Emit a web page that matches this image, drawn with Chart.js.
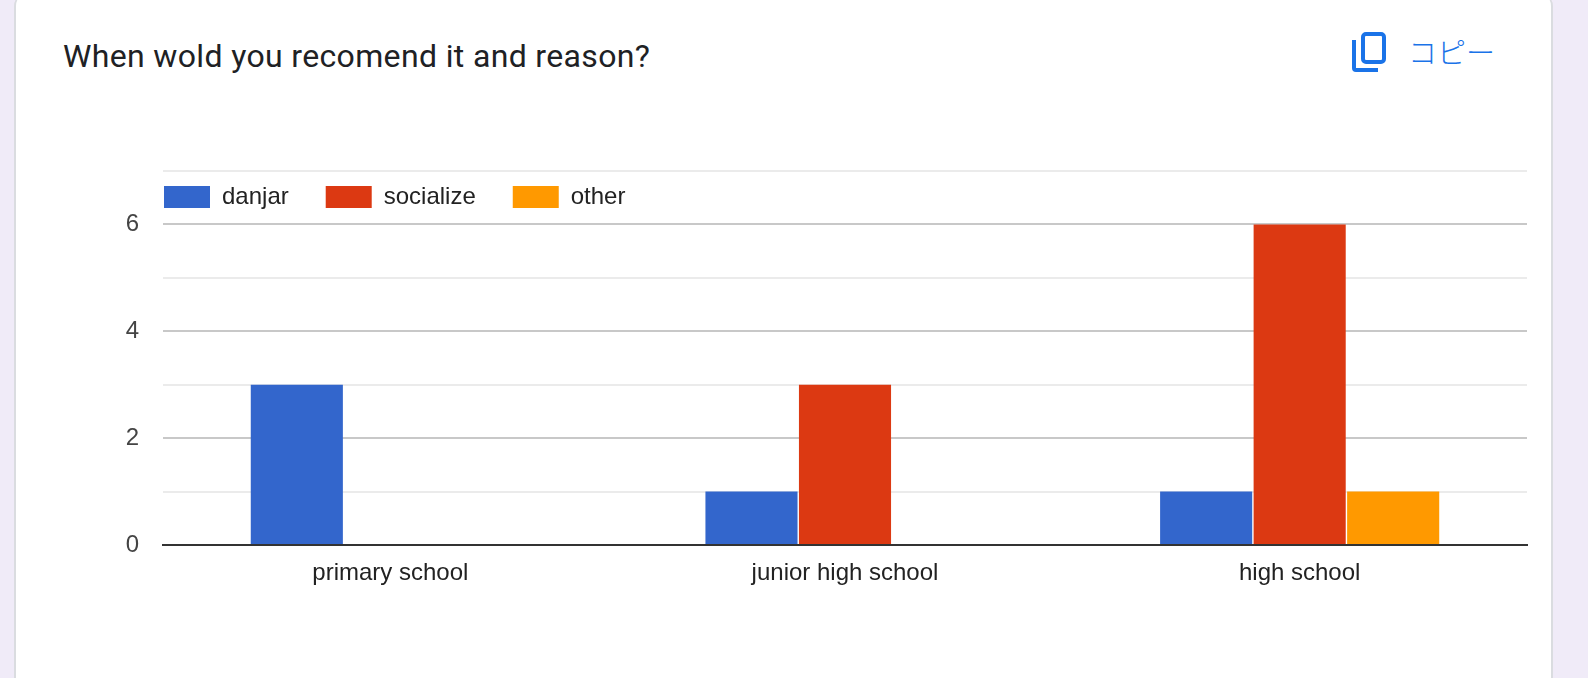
<!DOCTYPE html>
<html>
<head>
<meta charset="utf-8">
<script src="https://cdn.jsdelivr.net/npm/chart.js@4"></script>
<style>
  html, body { margin: 0; padding: 0; width: 1588px; height: 678px; overflow: hidden; background: #f0ebf8; }
  #card {
    position: absolute; left: 14px; top: -6px; width: 1535px; height: 720px;
    background: #fff; border: 1px solid #dadce0; border-width: 0 2px; border-radius: 12px;
  }
  #title {
    position: absolute; left: 63px; top: 37px;
    font: 400 32px Roboto, sans-serif; letter-spacing: 0.35px; color: #202124;
  }
  #copyIcon { position: absolute; left: 1352px; top: 32px; }
  #copy {
    position: absolute; left: 1408px; top: 30px;
    font: 300 29px "Noto Sans CJK JP", sans-serif; color: #1a73e8;
  }
  #chart { position: absolute; left: 0; top: 0; }
</style>
</head>
<body>
<div id="card"></div>
<div id="title">When wold you recomend it and reason?</div>
<svg id="copyIcon" width="34" height="40" viewBox="0 0 34 40">
  <rect x="11" y="2" width="21" height="28" rx="3" fill="none" stroke="#1a73e8" stroke-width="4"/>
  <path d="M2 8 V36 a2 2 0 0 0 2 2 H26" fill="none" stroke="#1a73e8" stroke-width="4"/>
</svg>
<div id="copy">コピー</div>
<canvas id="chart" width="1588" height="678"></canvas>
<script>
const categories = ["primary school", "junior high school", "high school"];
const danjar = [3, 1, 1];
const socialize = [0, 3, 6];
const other = [0, 0, 1];

// the legend sits inside the plot, above the 6 line
const moveLegend = {
  id: "moveLegend",
  afterLayout(chart) {
    const pad = chart.legend.options.labels.padding;
    chart.legend.left = 164 - pad;
    chart.legend.top = 185 - pad;
    chart.legend.right = 1500;
    chart.legend.bottom = 300; // legend clips its drawing to this box
  },
};

new Chart(document.getElementById("chart").getContext("2d"), {
  type: "bar",
  data: {
    labels: categories,
    datasets: [
      { label: "danjar", data: danjar, backgroundColor: "#3366cc" },
      { label: "socialize", data: socialize, backgroundColor: "#dc3912" },
      { label: "other", data: other, backgroundColor: "#ff9900" },
    ],
  },
  options: {
    responsive: false,
    animation: false,
    layout: { padding: { top: 100, right: 61 } },
    datasets: { bar: { categoryPercentage: 0.617, barPercentage: 0.985 } },
    plugins: {
      tooltip: { enabled: false },
      legend: {
        position: "top",
        align: "start",
        labels: {
          boxWidth: 46,
          boxHeight: 22,
          padding: 37,
          color: "#222222",
          font: { family: "'Liberation Sans', Arial, sans-serif", size: 24 },
        },
      },
    },
    scales: {
      x: {
        grid: { display: false },
        border: { color: "#333333", width: 2 },
        ticks: {
          color: "#222222",
          padding: 6,
          font: { family: "'Liberation Sans', Arial, sans-serif", size: 24 },
        },
        afterFit(scale) { scale.height = 133; },
      },
      y: {
        min: 0,
        max: 7,
        border: { display: false },
        grid: {
          drawTicks: false,
          lineWidth: 2,
          color: (ctx) => {
            if (ctx.tick.value === 0) return "transparent";
            return ctx.tick.value % 2 === 0 ? "#c8c8c8" : "#ebebeb";
          },
        },
        ticks: {
          stepSize: 1,
          autoSkip: false,
          padding: 24,
          color: "#444444",
          font: { family: "'Liberation Sans', Arial, sans-serif", size: 24 },
          callback: (v) => (v % 2 === 0 ? v : ""),
        },
        afterFit(scale) { scale.width = 163; },
      },
    },
  },
  plugins: [moveLegend],
});
</script>
</body>
</html>
